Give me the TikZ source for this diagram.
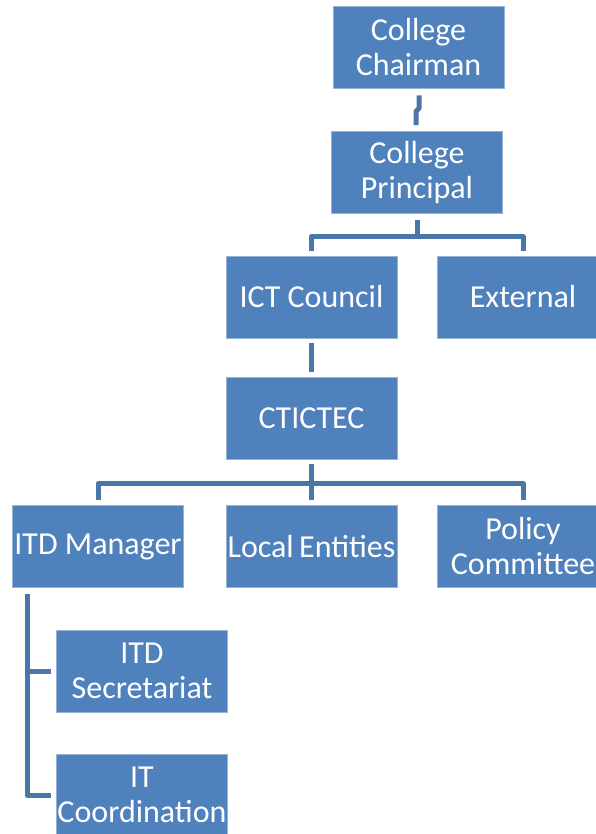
\documentclass[tikz,border=0pt]{standalone}
\usepackage{fontspec}
\setmainfont{Carlito}
\definecolor{boxblue}{RGB}{79,129,189}
\definecolor{lineblue}{RGB}{74,118,170}
\begin{document}
\begin{tikzpicture}[x=1pt,y=-1pt,
  orgbox/.style={rectangle, fill=boxblue, draw=boxblue!60!white, line width=0.8pt,
    minimum width=171pt, minimum height=82pt, inner sep=0pt},
  label/.style={text=white, align=center, inner sep=0pt,
    font=\fontsize{32}{35}\selectfont},
  conn/.style={draw=lineblue, line width=5pt, line join=round}]
\useasboundingbox (0,0) rectangle (596,834);

% boxes
\node[orgbox] (chair) at (418.5,47) {};
\node[orgbox] (princ) at (417,172.5) {};
\node[orgbox] (ict) at (311.5,297) {};
\node[orgbox] (ext) at (523,297) {};
\node[orgbox] (cti) at (311.5,418) {};
\node[orgbox] (itd) at (98,546.5) {};
\node[orgbox] (loc) at (311.5,546.5) {};
\node[orgbox] (pol) at (523,546.5) {};
\node[orgbox] (sec) at (142,671) {};
\node[orgbox] (coo) at (142,795) {};

% labels
\node[label] (tchair) at (chair) {College\\Chairman};
\node[label] (tprinc) at (princ) {College\\Principal};
\node[label] (tict) at (ict) {ICT Council};
\node[label] (text) at (ext) {External};
\node[label] (tcti) at (cti) {CTICTEC};
\node[label] (titd) at (itd) {ITD Manager};
\node[label] (tloc) at (loc) {Local\,Entities};
\node[label] (tpol) at (pol) {Policy\\Committee};
\node[label] (tsec) at (sec) {ITD\\Secretariat};
\node[label] (tcoo) at (coo) {IT\\Coordination};

% connectors
\draw[conn] ([shift={(0.5,7)}]chair.south) -- ++(0,13) -- ++(-3,3)
  -- ([shift={(-1,-6)}]princ.north);
\draw[conn, shorten <=6pt, shorten >=5pt] (princ.south) -- ++(0,23) -| (ict.north);
\draw[conn, shorten <=6pt, shorten >=5pt] (princ.south) -- ++(0,23) -| (ext.north);
\draw[conn, shorten <=5pt, shorten >=5pt] (ict.south) -- (cti.north);
\draw[conn, shorten <=5pt, shorten >=5pt] (cti.south) -- ++(0,24) -| (itd.north);
\draw[conn, shorten <=5pt, shorten >=5pt] (cti.south) -- ++(0,24) -| (pol.north);
\draw[conn, shorten <=5pt, shorten >=5pt] (cti.south) -- (loc.north);
\draw[conn, shorten >=5pt] ([shift={(15,6)}]itd.south west) |- (sec.west);
\draw[conn, shorten >=5pt] ([shift={(15,6)}]itd.south west) |- (coo.west);
\end{tikzpicture}
\end{document}
